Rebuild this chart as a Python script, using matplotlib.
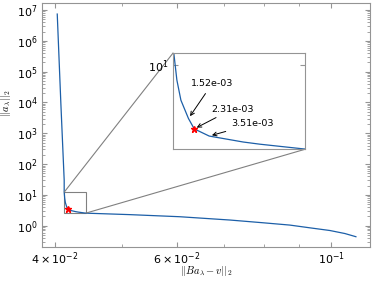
import numpy as np
import matplotlib
matplotlib.use("Agg")
import matplotlib.pyplot as plt
from matplotlib.ticker import NullLocator, NullFormatter, LogLocator
from mpl_toolkits.axes_grid1.inset_locator import mark_inset

# L-curve
res_norm = [0.0403, 0.04079, 0.04124, 0.04124, 0.04131, 0.04140, 0.04157, 0.0417,
            0.04204, 0.04282, 0.04321, 0.04428, 0.0513, 0.0605, 0.0715, 0.0797,
            0.0872, 0.0932, 0.0996, 0.1047, 0.1086]
sol_norm = [7.4e6, 8.9e3, 30.0, 12.2, 7.82, 5.65, 4.2, 3.55,
            3.16, 2.87, 2.77, 2.56, 2.29, 1.96, 1.53, 1.25,
            1.05, 0.855, 0.70, 0.558, 0.44]

# chosen lambda (red star) and its neighbours
lambdas = [1.52e-03, 2.31e-03, 3.51e-03]
lam_x = [0.04157, 0.0417, 0.04204]
lam_y = [4.2, 3.55, 3.16]
best = 1

xticks = [0.04, 0.06, 0.1]
xticklabels = [r'$4\times10^{-2}$', r'$6\times10^{-2}$', r'$10^{-1}$']

line_c = '#1c5fa8'
grey = '0.58'

fig = plt.figure(figsize=(3.74, 2.81), dpi=100)
ax = fig.add_axes([0.1131, 0.121, 0.8762, 0.8683])
ax.plot(res_norm, sol_norm, color=line_c, lw=0.9)
ax.plot(lam_x[best], lam_y[best], 'r*', ms=5)
ax.set_xscale('log')
ax.set_yscale('log')
ax.set_xlim(0.03835, 0.1138)
ax.set_ylim(0.204, 1.69e7)
ax.set_xticks(xticks)
ax.set_xticklabels(xticklabels)
ax.xaxis.set_minor_locator(LogLocator(subs=np.arange(2, 10)))
ax.xaxis.set_minor_formatter(NullFormatter())
ax.tick_params(which='both', direction='in', top=True, right=True,
               color=grey, labelsize=8)
ax.tick_params(axis='x', pad=2.5)
for s in ax.spines.values():
    s.set_color(grey)
ax.set_xlabel(r'$||Ba_\lambda - v||_2$', fontsize=7.5, math_fontfamily='cm')
ax.set_ylabel(r'$||a_\lambda||_2$', fontsize=7.5, math_fontfamily='cm')
ax.xaxis.set_label_coords(0.5, -0.07)
ax.yaxis.set_label_coords(-0.088, 0.59)

# zoomed inset
axins = fig.add_axes([0.4634, 0.4687, 0.352, 0.3438])
axins.plot(res_norm, sol_norm, color=line_c, lw=0.9)
axins.plot(lam_x[best], lam_y[best], 'r*', ms=5)
axins.set_xscale('log')
axins.set_yscale('log')
axins.set_xlim(0.04123, 0.04428)
axins.set_ylim(2.55, 12.2)
axins.set_xticks([])
axins.xaxis.set_minor_locator(NullLocator())
axins.set_yticks([10])
axins.yaxis.set_minor_locator(NullLocator())
axins.tick_params(which='both', direction='in', right=True, color=grey, labelsize=8)
for s in axins.spines.values():
    s.set_color(grey)

txt_pos = [(0.294, 0.676), (0.45, 0.417), (0.601, 0.262)]
for lam, px, py, tp in zip(lambdas, lam_x, lam_y, txt_pos):
    axins.annotate('%.2e' % lam, xy=(px, py), xytext=tp, textcoords='axes fraction',
                   ha='center', va='center', fontsize=6.8,
                   arrowprops=dict(arrowstyle='->', color='k', lw=0.7))

mark_inset(ax, axins, loc1=2, loc2=4, fc='none', ec='0.5', lw=0.8)

fig.savefig('out.png', dpi=100)
